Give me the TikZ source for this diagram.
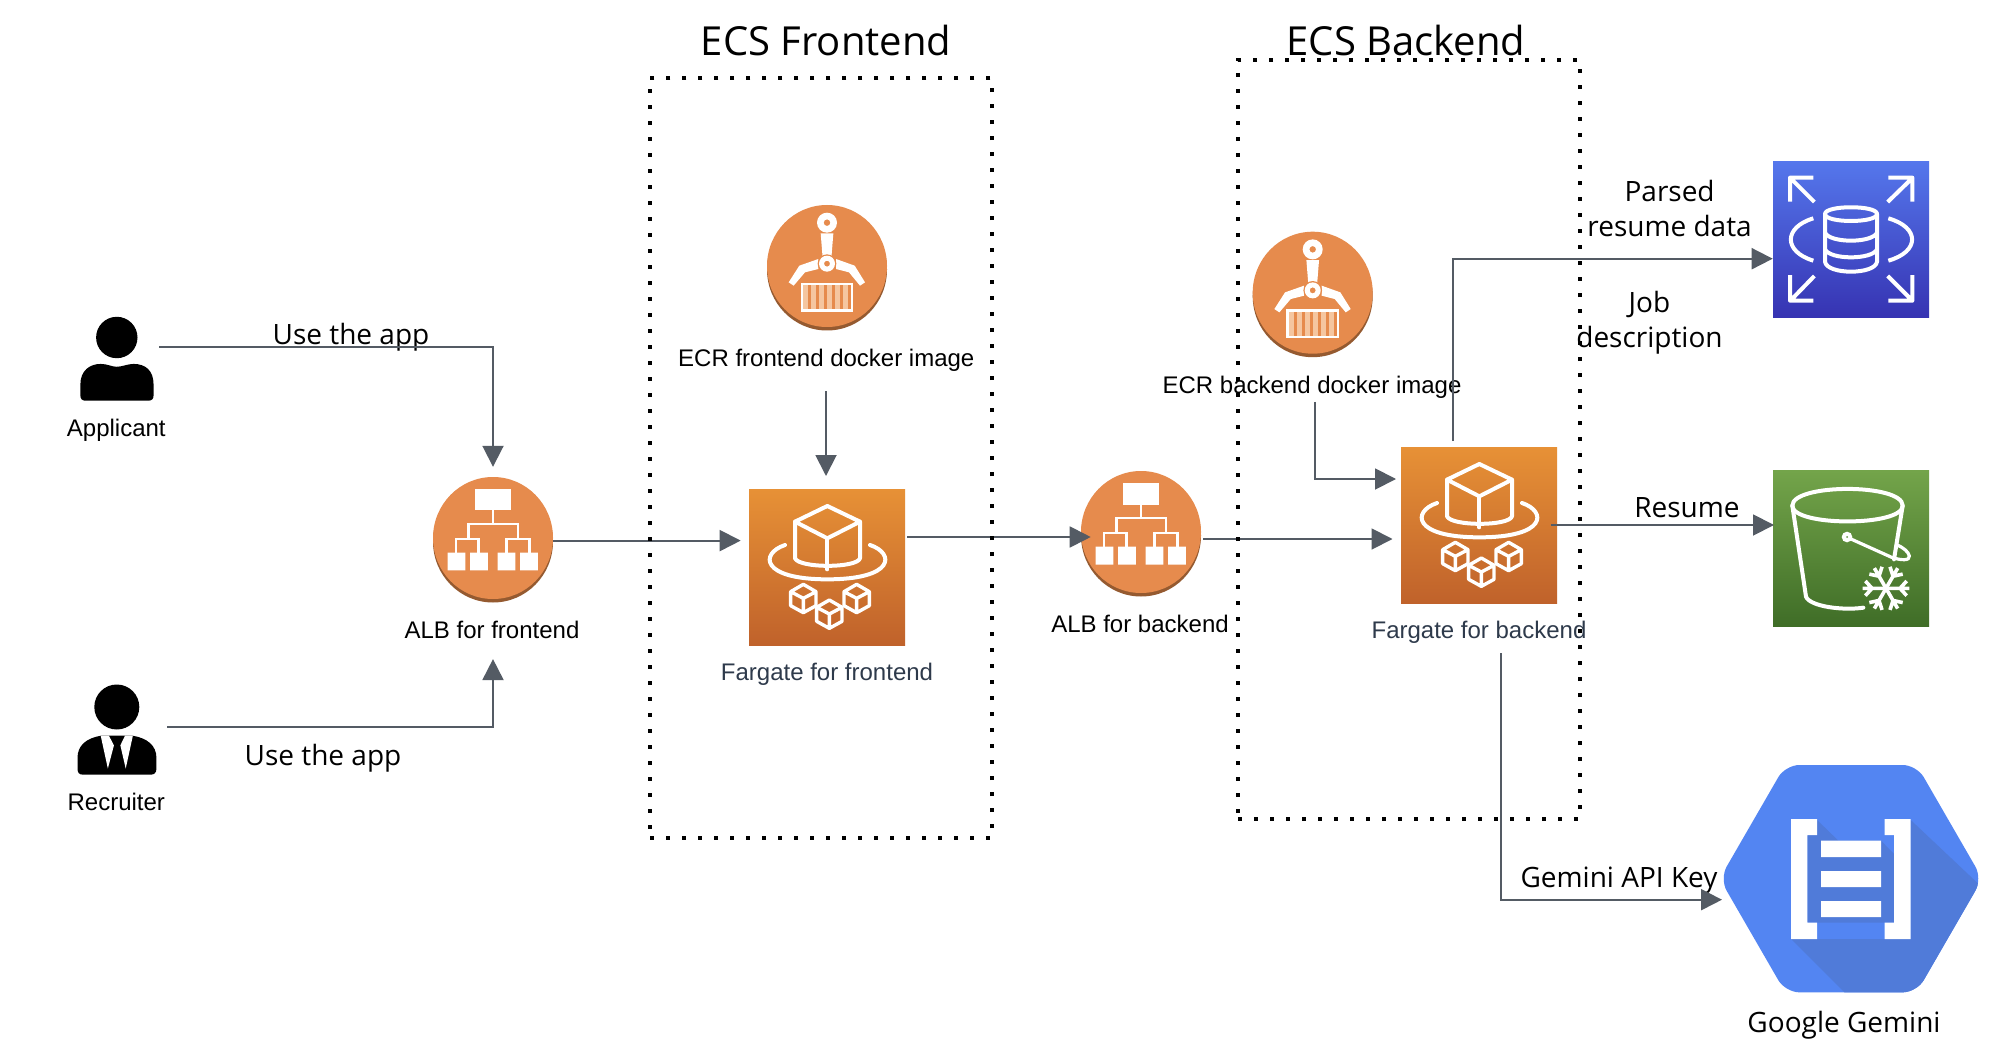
\documentclass[tikz,border=0pt]{standalone}
\usepackage{fontspec}
\setmainfont{Liberation Sans}
\newfontfamily\osans{Open Sans}
\usetikzlibrary{arrows.meta,shapes.geometric}
\definecolor{conncol}{HTML}{545B64}
\definecolor{orcircle}{HTML}{E68B4D}
\definecolor{orshadow}{HTML}{955A30}
\definecolor{fgtop}{HTML}{E79136}
\definecolor{fgbot}{HTML}{C0622B}
\definecolor{rdstop}{HTML}{5577EC}
\definecolor{rdsbot}{HTML}{3633B2}
\definecolor{sthreetop}{HTML}{73A44A}
\definecolor{sthreebot}{HTML}{3F6D27}
\definecolor{gemblue}{HTML}{5385F2}
\definecolor{gemdark}{HTML}{507BD9}
\definecolor{fglabel}{HTML}{2E3A4B}
\definecolor{palebar}{HTML}{F5C6A0}
\tikzset{
  conn/.style={draw=conncol,line width=0.95pt,-{Triangle[length=10.5pt,width=10.5pt]}},
  dotbox/.style={draw=black,line width=2pt,dash pattern=on 2pt off 6pt,rectangle,inner sep=0pt,outer sep=0pt},
  lbl/.style={anchor=base,inner sep=0pt,outer sep=0pt,font=\fontsize{12}{14}\selectfont},
  fglbl/.style={lbl,text=fglabel},
  oslbl/.style={anchor=base,inner sep=0pt,outer sep=0pt,align=center,font=\osans\fontsize{14}{17.5}\selectfont},
  ttl/.style={anchor=base,inner sep=0pt,outer sep=0pt,font=\osans\fontsize{20}{24}\selectfont},
  orb/.style={ellipse,inner sep=0pt,outer sep=0pt,minimum width=60pt,minimum height=61pt,fill=orcircle},
  orbshadow/.style={ellipse,inner sep=0pt,outer sep=0pt,minimum width=60pt,minimum height=61pt,fill=orshadow},
  sqbox/.style={rectangle,inner sep=0pt,outer sep=0pt,minimum width=78pt,minimum height=78pt},
  fgbox/.style={sqbox,top color=fgtop,bottom color=fgbot},
  ghostbox/.style={rectangle,inner sep=0pt,outer sep=0pt},
  wline/.style={draw=white,line width=2pt,line join=round,line cap=round},
  zoomthree/.style={x=0.16667pt,y=-0.16667pt},
  zoomtwoeight/.style={x=0.17857pt,y=-0.17857pt},
}
\newcommand{\albglyph}{%
  \fill[white] (1219,556) rectangle (1318,617);
  \draw[draw=white,line width=1.25pt] (1268,617) -- (1268,655) (1200,695) -- (1200,655) -- (1338,655) -- (1338,695)
    (1165,735) -- (1165,697) -- (1228,697) -- (1228,735)
    (1306,735) -- (1306,697) -- (1370,697) -- (1370,735);
  \fill[white] (1141,735) rectangle (1191,785) (1204,735) rectangle (1254,785)
    (1281,735) rectangle (1331,785) (1344,735) rectangle (1394,785);
}
\newcommand{\ecrglyph}{%
  \fill[white] (212,115) -- (250,115) -- (244,190) -- (218,190) -- cycle;
  \fill[white,even odd rule] (231,83) circle [radius=30] (231,83) circle [radius=10];
  \fill[white] (205,192) -- (148,212) -- (116,262) -- (131,272) -- (165,232) -- (205,222) -- cycle;
  \fill[white] (258,192) -- (314,212) -- (345,262) -- (330,272) -- (297,232) -- (258,222) -- cycle;
  \fill[orcircle] (231,206) circle [radius=28];
  \fill[white,even odd rule] (231,206) circle [radius=24] (231,206) circle [radius=9];
  \fill[white] (152,263) rectangle (310,350);
  \fill[orcircle] (159,270) rectangle (303,343);
  \foreach \bx in {160,184,208,232,256,280}{\fill[palebar] (\bx,270) rectangle ++(14,73);}
}
\newcommand{\smallcube}[2]{%
  \begin{scope}[shift={(#1,#2)}]
    \draw[draw=white,line width=1.7pt,line join=round]
      (0,-42) -- (38,-20) -- (38,22) -- (0,43) -- (-38,22) -- (-38,-20) -- cycle
      (-38,-20) -- (0,0) -- (38,-20) (0,0) -- (0,43);
  \end{scope}%
}
\newcommand{\fargateglyph}{%
  \draw[wline] (165,155) -- (262,108) -- (360,155) -- (262,205) -- cycle;
  \draw[wline] (165,155) -- (165,265) .. controls (178,295) and (350,295) .. (360,265) -- (360,155);
  \draw[wline] (262,205) -- (262,298);
  \draw[wline] (135,225) .. controls (60,250) and (60,328) .. (262,328) .. controls (465,328) and (465,250) .. (390,225);
  \smallcube{190}{385}\smallcube{268}{432}\smallcube{350}{385}%
}
\begin{document}
\begin{tikzpicture}[x=0.5pt,y=-0.5pt]
\useasboundingbox (0,0) rectangle (1992,1048);
\fill[white] (0,0) rectangle (1992,1048);

% --- people ---
\node[ghostbox,minimum width=36.6pt,minimum height=42pt] (appicon) at (117,359) {};
\fill[black] (116.8,337.5) circle [radius=20.7];
\begin{scope}[shift={(40,290)},zoomtwoeight]
  \fill[black] (113,295) -- (113,265) .. controls (113,225) and (140,207) .. (170,207)
    .. controls (190,207) and (200,215) .. (215,215) .. controls (230,215) and (245,207) .. (262,207)
    .. controls (295,207) and (318,225) .. (318,265) -- (318,295)
    .. controls (318,305) and (313,310) .. (303,310) -- (128,310) .. controls (118,310) and (113,305) .. (113,295) -- cycle;
\end{scope}
\node[ghostbox,minimum width=39.5pt,minimum height=45pt] (recicon) at (117,729.5) {};
\fill[black] (116.8,707) circle [radius=22.5];
\begin{scope}[shift={(40,290)},zoomtwoeight]
  \fill[black] (105,1340) -- (105,1310) .. controls (105,1275) and (130,1255) .. (170,1248) -- (260,1248)
    .. controls (300,1255) and (326,1275) .. (326,1310) -- (326,1340)
    .. controls (326,1352) and (320,1357) .. (310,1357) -- (120,1357) .. controls (110,1357) and (105,1352) .. (105,1340) -- cycle;
  \fill[white] (170,1248) -- (193,1248) -- (207,1275) -- (190,1340) -- cycle;
  \fill[white] (260,1248) -- (238,1248) -- (225,1275) -- (240,1340) -- cycle;
\end{scope}
\node[lbl] (applbl) at (116.3,436.9) {Applicant};
\node[lbl] (reclbl) at (116.3,810.8) {Recruiter};

% --- load balancers ---
\node[orbshadow] (albfs) at (493,541.5) {};
\node[orb] (albf) at (493,538) {};
\begin{scope}[shift={(40,290)},zoomtwoeight]\albglyph\end{scope}
\node[lbl] (albfl) at (492,638.7) {ALB for frontend};
\node[orbshadow] (albbs) at (1141,535.5) {};
\node[orb] (albb) at (1141,532) {};
\begin{scope}[shift={(688,284.2)},zoomtwoeight]\albglyph\end{scope}
\node[lbl] (albbl) at (1140,632.9) {ALB for backend};

% --- registries ---
\node[orbshadow] (ecrfs) at (827,269.5) {};
\node[orb] (ecrf) at (827,266) {};
\begin{scope}[shift={(750,195)},zoomthree]\ecrglyph\end{scope}
\node[lbl] (ecrfl) at (826.3,366.9) {ECR frontend docker image};
\node[orbshadow] (ecrbs) at (1312.7,296.2) {};
\node[orb] (ecrb) at (1312.7,292.7) {};
\begin{scope}[shift={(1235.7,221.7)},zoomthree]\ecrglyph\end{scope}
\node[lbl] (ecrbl) at (1312,393.9) {ECR backend docker image};

% --- fargate ---
\node[fgbox] (fgf) at (827,567) {};
\begin{scope}[shift={(740,470)},zoomthree]\fargateglyph\end{scope}
\node[fglbl] (fgfl) at (827,680.5) {Fargate for frontend};
\node[fgbox] (fgb) at (1479,525) {};
\begin{scope}[shift={(1392,428)},zoomthree]\fargateglyph\end{scope}
\node[fglbl] (fgbl) at (1479,638.2) {Fargate for backend};

% --- RDS ---
\node[sqbox,top color=rdstop,bottom color=rdsbot] (rds) at (1851,239.4) {};
\begin{scope}[shift={(1720,140)},zoomthree]
  \draw[wline,line cap=butt]
    (210,185) -- (210,113) -- (280,113) (215,118) -- (283,186)
    (505,113) -- (577,113) -- (577,185) (573,118) -- (503,186)
    (210,405) -- (210,482) -- (280,482) (215,478) -- (283,408)
    (505,482) -- (577,482) -- (577,405) (573,478) -- (503,408);
  \draw[wline,line cap=butt]
    (280,235) .. controls (190,262) and (190,335) .. (280,362)
    (505,235) .. controls (600,262) and (600,335) .. (505,362);
  \draw[wline] (315,222) .. controls (315,195) and (471,195) .. (471,222) .. controls (471,250) and (315,250) .. (315,222);
  \draw[wline] (315,222) -- (315,365) .. controls (320,405) and (466,405) .. (471,365) -- (471,222);
  \draw[wline] (315,278) .. controls (330,310) and (456,310) .. (471,278);
  \draw[wline] (315,328) .. controls (330,360) and (456,360) .. (471,328);
\end{scope}

% --- S3 ---
\node[sqbox,top color=sthreetop,bottom color=sthreebot] (sthree) at (1851,548.7) {};
\begin{scope}[shift={(1720,140)},zoomthree]
  \draw[wline] (217,1097) .. controls (217,1030) and (548,1030) .. (548,1097) .. controls (548,1160) and (217,1160) .. (217,1097) -- cycle;
  \draw[wline] (217,1097) -- (258,1370) .. controls (270,1400) and (370,1412) .. (430,1403);
  \draw[wline] (548,1097) -- (522,1258);
  \fill[white] (381,1191) circle [radius=16];
  \fill[sthreetop!70!sthreebot] (381,1191) circle [radius=3];
  \draw[wline,line width=1.6pt] (395,1198) -- (515,1252) .. controls (545,1262) and (570,1262) .. (568,1248) .. controls (566,1235) and (548,1222) .. (532,1215);
  \foreach \a in {0,60,...,300}{
    \begin{scope}[shift={(498,1345)},rotate=\a]
      \draw[wline,line cap=butt,line width=1.8pt] (0,0) -- (70,0) (42,0) -- (62,-22) (42,0) -- (62,22);
    \end{scope}
  }
\end{scope}

% --- Gemini ---
\node[ghostbox,minimum width=131.3pt,minimum height=113.7pt] (gemini) at (1851,878.7) {};
\begin{scope}[shift={(1680,740)},zoomthree]
  \fill[gemblue,rounded corners=7pt] (119,416) -- (316,75) -- (710,75) -- (907,416) -- (710,757) -- (316,757) -- cycle;
  \begin{scope}
    \clip[rounded corners=7pt] (119,416) -- (316,75) -- (710,75) -- (907,416) -- (710,757) -- (316,757) -- cycle;
    \fill[gemdark] (333,597) -- (496,760) -- (920,760) -- (920,455) -- (692,240) -- (692,597) -- cycle;
  \end{scope}
  \fill[gemdark] (411,240) -- (475,302) -- (603,302) -- (642,342) -- (642,548) -- (382,548) -- (382,285) -- (411,285) -- cycle;
  \fill[white] (333,237) -- (411,237) -- (411,285) -- (382,285) -- (382,548) -- (411,548) -- (411,597) -- (333,597) -- cycle;
  \fill[white] (614,237) -- (692,237) -- (692,597) -- (614,597) -- (614,548) -- (642,548) -- (642,285) -- (614,285) -- cycle;
  \fill[white] (423,302) rectangle (603,351) (423,393) rectangle (603,441) (423,483) rectangle (603,531);
\end{scope}
\node[oslbl] (gemlbl) at (1844,1032.9) {Google Gemini};

% --- connector labels ---
\node[oslbl] (useone) at (351,344.2) {Use the app};
\node[oslbl] (usetwo) at (323,765.2) {Use the app};
\node[oslbl] (parsed) at (1669.6,236.2) {Parsed\\resume data};
\node[oslbl] (jobd) at (1649.5,347.9) {Job\\description};
\node[oslbl] (resume) at (1687,517.9) {Resume};
\node[oslbl] (gemkey) at (1619,887.9) {Gemini API Key};
\node[ttl] (ecsft) at (826,55.5) {ECS Frontend};
\node[ttl] (ecsbt) at (1406,55.5) {ECS Backend};

% --- connectors ---
\draw[conn] ([shift={(5.4,-12.2)}]appicon.east) -| ([shift={(0,-10.2)}]albf.north);
\draw[conn] ([shift={(10.6,-2.4)}]recicon.east) -| ([shift={(0,60.1)}]albf.south);
\draw[conn] ([shift={(0,2.6)}]albf.east) -- ([shift={(-8.3,-26.4)}]fgf.west);
\draw[conn] ([shift={(-1,64)}]ecrf.south) -- ([shift={(-1,-13)}]fgf.north);
\draw[conn] ([shift={(2,-30)}]fgf.east) -- ([shift={(9.7,5)}]albb.west);
\draw[conn] ([shift={(2,7)}]albb.east) -- ([shift={(-8.5,14)}]fgb.west);
\draw[conn] ([shift={(2,48.2)}]ecrb.south) |- ([shift={(-5,-46)}]fgb.west);
\draw[conn] ([shift={(-26.3,-6)}]fgb.north) |- ([shift={(-0.3,19.3)}]rds.west);
\draw[conn] ([shift={(-6.2,0)}]fgb.east) -- ([shift={(1,-23.7)}]sthree.west);
\draw[conn] ([shift={(22,50.3)}]fgb.south) |- ([shift={(2.3,21)}]gemini.west);

% --- dotted groups ---
\node[dotbox,minimum width=171pt,minimum height=380.2pt] (ecsf) at (821,458) {};
\node[dotbox,minimum width=171pt,minimum height=379.5pt] (ecsb) at (1409,439.5) {};
\end{tikzpicture}
\end{document}
